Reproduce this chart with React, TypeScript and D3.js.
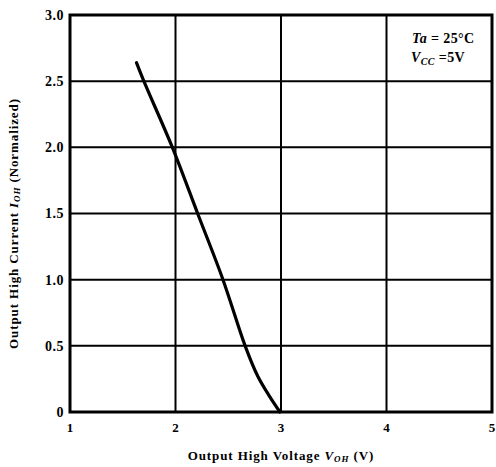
import React from "react";
import * as d3 from "d3";

// curve
const voltage = [1.63, 1.7, 1.97, 2.21, 2.45, 2.66, 2.78, 2.89, 2.99];
const current = [2.64, 2.5, 2.0, 1.5, 1.0, 0.5, 0.27, 0.12, 0];

const xTicks = [1, 2, 3, 4, 5];
const yTicks = [0, 0.5, 1.0, 1.5, 2.0, 2.5, 3.0];

const font = "'Liberation Serif', 'Times New Roman', serif";

const App = () => {
  const width = 496;
  const height = 467;
  const margin = { left: 70, right: 4, top: 15, bottom: 55 };

  const x = d3.scaleLinear().domain([1, 5]).range([margin.left, width - margin.right]);
  const y = d3.scaleLinear().domain([0, 3]).range([height - margin.bottom, margin.top]);

  const pts = voltage.map((v, i) => [v, current[i]] as [number, number]);
  const line = d3
    .line<[number, number]>()
    .x((d) => x(d[0]))
    .y((d) => y(d[1]))
    .curve(d3.curveCatmullRom.alpha(0.5));

  const yFmt = (d: number) => (d === 0 ? "0" : d3.format(".1f")(d));

  return (
    <svg
      width={width}
      height={height}
      style={{ position: "absolute", left: 0, top: 0, background: "#fff" }}
      fontFamily={font}
      fontWeight="bold"
    >
      {/* grid */}
      {xTicks.map((t) => (
        <line key={"gx" + t} x1={x(t)} x2={x(t)} y1={y(0)} y2={y(3)} stroke="#000" strokeWidth={2} />
      ))}
      {yTicks.map((t) => (
        <line key={"gy" + t} x1={x(1)} x2={x(5)} y1={y(t)} y2={y(t)} stroke="#000" strokeWidth={2} />
      ))}
      <rect
        x={x(1)}
        y={y(3)}
        width={x(5) - x(1)}
        height={y(0) - y(3)}
        fill="none"
        stroke="#000"
        strokeWidth={3}
      />

      {/* curve */}
      <path d={line(pts) || ""} fill="none" stroke="#000" strokeWidth={3.2} strokeLinecap="round" />

      {/* tick labels */}
      {yTicks.map((t) => (
        <text key={"ty" + t} x={x(1) - 6} y={y(t)} dy="0.35em" textAnchor="end" fontSize={14} letterSpacing={0.5}>
          {yFmt(t)}
        </text>
      ))}
      {xTicks.map((t) => (
        <text key={"tx" + t} x={x(t)} y={y(0) + 20} textAnchor="middle" fontSize={13}>
          {t}
        </text>
      ))}

      {/* conditions */}
      <text x={412} y={43} fontSize={14} letterSpacing={0.4}>
        <tspan fontStyle="italic">Ta</tspan>
        <tspan>{" = 25\u00B0C"}</tspan>
      </text>
      <text x={411} y={62} fontSize={14} letterSpacing={0.4}>
        <tspan fontStyle="italic">V</tspan>
        <tspan fontStyle="italic" fontSize={10} dy={3}>CC</tspan>
        <tspan dy={-3}>{" =5V"}</tspan>
      </text>

      {/* axis titles */}
      <text x={(x(1) + x(5)) / 2} y={460} textAnchor="middle" fontSize={13} letterSpacing={0.9}>
        <tspan>{"Output High Voltage   "}</tspan>
        <tspan fontStyle="italic">V</tspan>
        <tspan fontStyle="italic" fontSize={9} dy={2}>OH</tspan>
        <tspan dy={-2}>{"  (V)"}</tspan>
      </text>
      <text
        transform={`translate(18,${(y(0) + y(3)) / 2 + 10}) rotate(-90)`}
        textAnchor="middle"
        fontSize={13}
        letterSpacing={0.9}
      >
        <tspan>{"Output High Current   "}</tspan>
        <tspan fontStyle="italic">I</tspan>
        <tspan fontStyle="italic" fontSize={9} dy={2}>OH</tspan>
        <tspan dy={-2}>{"  (Normalized)"}</tspan>
      </text>
    </svg>
  );
};

export default App;
